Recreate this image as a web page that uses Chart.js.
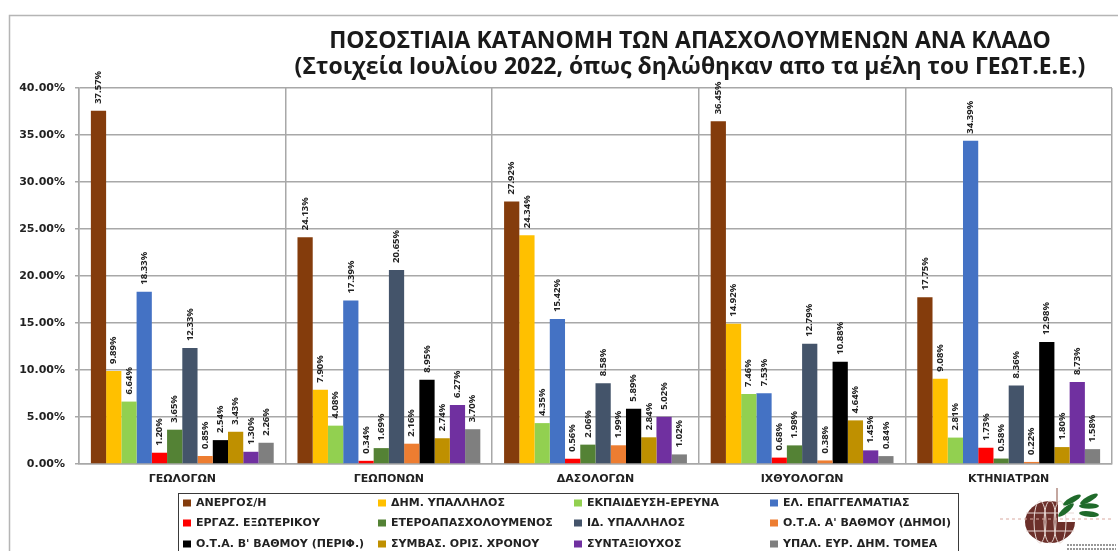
<!DOCTYPE html>
<html><head><meta charset="utf-8">
<style>html,body{margin:0;padding:0;background:#fff}#w{position:relative;width:1118px;height:551px}canvas{display:block}</style>
<script src="https://cdn.jsdelivr.net/npm/chart.js@4"></script></head>
<body><div id="w"><canvas id="c" width="1118" height="551"></canvas></div>
<script>
const categories = ["ΓΕΩΛΟΓΩΝ","ΓΕΩΠΟΝΩΝ","ΔΑΣΟΛΟΓΩΝ","ΙΧΘΥΟΛΟΓΩΝ","ΚΤΗΝΙΑΤΡΩΝ"];
const titleLines = ["ΠΟΣΟΣΤΙΑΙΑ ΚΑΤΑΝΟΜΗ ΤΩΝ ΑΠΑΣΧΟΛΟΥΜΕΝΩΝ ΑΝΑ ΚΛΑΔΟ","(Στοιχεία Ιουλίου 2022, όπως δηλώθηκαν απο τα μέλη του ΓΕΩΤ.Ε.Ε.)"];
const anergos = [37.57,24.13,27.92,36.45,17.75];
const dimYpal = [9.89,7.90,24.34,14.92,9.08];
const ekpaideusi = [6.64,4.08,4.35,7.46,2.81];
const elEpag = [18.33,17.39,15.42,7.53,34.39];
const exoteriko = [1.20,0.34,0.56,0.68,1.73];
const eteroapasx = [3.65,1.69,2.06,1.98,0.58];
const idYpal = [12.33,20.65,8.58,12.79,8.36];
const otaA = [0.85,2.16,1.99,0.38,0.22];
const otaB = [2.54,8.95,5.89,10.88,12.98];
const symvas = [3.43,2.74,2.84,4.64,1.80];
const syntax = [1.30,6.27,5.02,1.45,8.73];
const ypalEyr = [2.26,3.70,1.02,0.84,1.58];
const seriesNames = ["ΑΝΕΡΓΟΣ/Η","ΔΗΜ. ΥΠΑΛΛΗΛΟΣ","ΕΚΠΑΙΔΕΥΣΗ-ΕΡΕΥΝΑ","ΕΛ. ΕΠΑΓΓΕΛΜΑΤΙΑΣ","ΕΡΓΑΖ. ΕΞΩΤΕΡΙΚΟΥ","ΕΤΕΡΟΑΠΑΣΧΟΛΟΥΜΕΝΟΣ","ΙΔ. ΥΠΑΛΛΗΛΟΣ","Ο.Τ.Α. Α' ΒΑΘΜΟΥ (ΔΗΜΟΙ)","Ο.Τ.Α. Β' ΒΑΘΜΟΥ (ΠΕΡΙΦ.)","ΣΥΜΒΑΣ. ΟΡΙΣ. ΧΡΟΝΟΥ","ΣΥΝΤΑΞΙΟΥΧΟΣ","ΥΠΑΛ. ΕΥΡ. ΔΗΜ. ΤΟΜΕΑ"];
const seriesValues = [anergos,dimYpal,ekpaideusi,elEpag,exoteriko,eteroapasx,idYpal,otaA,otaB,symvas,syntax,ypalEyr];
const seriesColors = ["#843C0C","#FFC000","#92D050","#4472C4","#FF0000","#548235","#44546A","#ED7D31","#000000","#BF9000","#7030A0","#7F7F7F"];

const FONT = '"Open Sans", "Noto Sans", sans-serif';
const DJ = '"DejaVu Sans", sans-serif';

const frame = {id:'frame',beforeDraw(c){const x=c.ctx;x.save();x.fillStyle='#fff';x.fillRect(0,0,1118,551);
  x.strokeStyle='#b5b5b5';x.lineWidth=1.5;x.beginPath();x.moveTo(9.5,551);x.lineTo(9.5,15.5);x.lineTo(1118,15.5);x.stroke();x.restore();}};

const moveTitle = {id:'moveTitle',afterLayout(c){c.titleBlock.left=262;c.titleBlock.right=1118;}};

const valueLabels = {id:'valueLabels',afterDatasetsDraw(c){const x=c.ctx;x.save();
  x.font='bold 9.5px '+FONT;x.fillStyle='#222';x.textAlign='left';x.textBaseline='middle';
  c.data.datasets.forEach((d,i)=>{c.getDatasetMeta(i).data.forEach((b,j)=>{
    x.save();x.translate(b.x,b.y-7);x.rotate(-Math.PI/2);x.fillText(d.data[j].toFixed(2)+'%',0,0);x.restore();});});
  x.restore();}};

const boxLegend = {id:'boxLegend',afterDraw(c){const x=c.ctx;x.save();
  x.strokeStyle='#3a3a3a';x.lineWidth=1;x.strokeRect(178.5,493.5,780,60);
  const cols=[183,378,574,770],rows=[503,523,544];
  x.font='bold 11px '+DJ;x.textBaseline='middle';x.textAlign='left';
  seriesNames.forEach((n,i)=>{const cx=cols[i%4],cy=rows[Math.floor(i/4)];
    x.fillStyle=seriesColors[i];x.fillRect(cx,cy-3.5,8,7);
    x.fillStyle='#222';x.fillText(n,cx+13,cy);});
  x.restore();}};

const logo = {id:'logo',afterDraw(c){const x=c.ctx;x.save();
  x.fillStyle='#6b2f2a';x.beginPath();x.ellipse(1050,522,25,21,0,0,7);x.fill();
  x.fillStyle='#fff';x.beginPath();x.moveTo(1058,497);x.lineTo(1080,497);x.lineTo(1080,522);x.lineTo(1058,522);x.fill();
  x.strokeStyle='#e8d8d4';x.lineWidth=1;
  [-9,9].forEach(d=>{x.beginPath();x.moveTo(1026,522+d);x.lineTo(1074,522+d);x.stroke();});
  [-10,0,10].forEach(d=>{x.beginPath();x.ellipse(1050+d,522,6,21,0,0,7);x.stroke();});
  x.strokeStyle='#d9a9a0';x.setLineDash([3,3]);x.beginPath();x.moveTo(1000,519);x.lineTo(1113,519);x.stroke();x.setLineDash([]);
  x.strokeStyle='#b08a80';x.lineWidth=1.5;x.beginPath();x.moveTo(1057,488);x.lineTo(1057,505);x.stroke();
  x.fillStyle='#1f6a2a';
  [[1072,500,-.5],[1089,499,-.5],[1089,506,0],[1066,510,-.7],[1089,514,.1]].forEach(l=>{x.beginPath();x.ellipse(l[0],l[1],10,2.8,l[2],0,7);x.fill();});
  x.strokeStyle='#777';x.lineWidth=1.5;x.setLineDash([2,1]);
  [545,549].forEach(y=>{x.beginPath();x.moveTo(1067,y);x.lineTo(1116,y);x.stroke();});
  x.restore();}};

new Chart(document.getElementById('c'),{
  type:'bar',
  data:{labels:categories,datasets:seriesNames.map((n,i)=>({label:n,data:seriesValues[i],backgroundColor:seriesColors[i],categoryPercentage:0.885,barPercentage:1,borderWidth:0}))},
  plugins:[frame,moveTitle,valueLabels,boxLegend,logo],
  options:{responsive:false,animation:false,
    layout:{padding:{top:0,right:6,left:0,bottom:0}},
    plugins:{legend:{display:false},tooltip:{enabled:false},
      title:{display:true,text:titleLines,color:'#1a1a1a',font:{family:FONT,size:23,weight:'bold',lineHeight:'26px'},padding:{top:28,bottom:8}}},
    scales:{
      x:{afterFit(s){s.height=87;},grid:{color:'#a8a8a8',lineWidth:1.5,tickLength:0,drawTicks:false},border:{color:'#a8a8a8',width:1.5},
         ticks:{color:'#222',padding:9,maxRotation:0,font:{family:DJ,size:11,weight:'bold'}}},
      y:{min:0,max:40,afterFit(s){s.width=79;},
         grid:{color:'#a8a8a8',lineWidth:1.5,tickLength:4},border:{color:'#a8a8a8',width:1.5},
         ticks:{stepSize:5,color:'#222',padding:10,font:{family:DJ,size:11,weight:'bold'},callback:v=>v.toFixed(2)+'%'}}
    }}
});
</script></body></html>
